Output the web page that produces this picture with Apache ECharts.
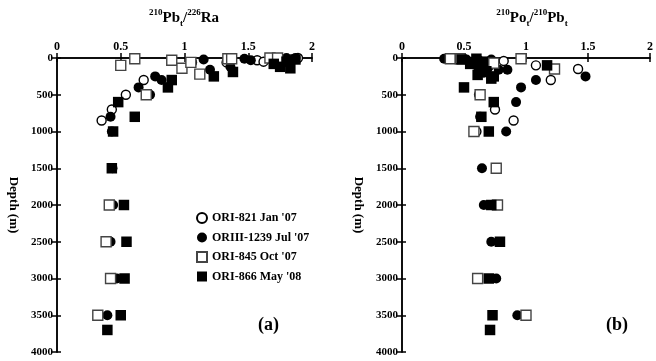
<!DOCTYPE html>
<html><head><meta charset="utf-8">
<script src="https://cdn.jsdelivr.net/npm/echarts@6/dist/echarts.min.js"></script>
<style>html,body{margin:0;padding:0;background:#fff}#c{width:656px;height:361px}</style>
</head><body><div id="c"></div>
<script>
// ---- tick labels ----
const ratioTicks = [0, 0.5, 1, 1.5, 2];
const depthTicks = [0, 500, 1000, 1500, 2000, 2500, 3000, 3500, 4000];
const seriesNames = ["ORI-821 Jan '07", "ORIII-1239 Jul '07", "ORI-845 Oct '07", "ORI-866 May '08"];

// ---- panel (a): 210Pb/226Ra  [ratio, depth m] ----
const pbRa_ORI821 = [[0.35,850],[0.43,700],[0.54,500],[0.68,300],[1.33,60],[1.57,30],[1.62,50],[1.89,0]];
const pbRa_ORIII1239 = [[1.06,60],[1.15,20],[1.20,160],[1.36,120],[1.47,10],[1.52,30],[1.80,0],[1.87,0],[0.77,250],[0.82,300],[0.64,400],[0.73,500],[0.42,800],[0.43,1000],[0.435,1500],[0.44,2000],[0.42,2500],[0.47,3000],[0.395,3500]];
const pbRa_ORI845 = [[0.50,100],[0.61,10],[0.90,30],[0.98,140],[1.05,60],[1.12,220],[1.34,10],[1.37,10],[1.67,0],[1.73,0],[0.70,500],[0.41,2000],[0.385,2500],[0.42,3000],[0.32,3500]];
const pbRa_ORI866 = [[0.90,300],[0.87,400],[1.23,250],[1.38,190],[1.70,80],[1.75,120],[1.80,50],[1.83,140],[1.87,20],[0.48,600],[0.61,800],[0.44,1000],[0.43,1500],[0.525,2000],[0.545,2500],[0.53,3000],[0.50,3500],[0.395,3700]];

// ---- panel (b): 210Po/210Pb ----
const poPb_ORI821 = [[0.82,40],[0.75,700],[0.90,850],[0.60,1000],[1.08,100],[1.20,300],[1.42,150]];
const poPb_ORIII1239 = [[0.34,10],[0.45,10],[0.52,20],[0.58,50],[0.62,30],[0.68,80],[0.72,20],[0.70,120],[0.66,200],[0.78,160],[0.85,160],[0.62,500],[0.96,400],[0.92,600],[0.63,800],[0.84,1000],[0.645,1500],[0.66,2000],[0.72,2500],[0.76,3000],[0.93,3500],[1.08,300],[1.48,250]];
const poPb_ORI845 = [[0.39,10],[0.47,10],[0.74,70],[0.96,10],[1.23,150],[0.63,500],[0.58,1000],[0.76,1500],[0.77,2000],[0.61,3000],[1.00,3500]];
const poPb_ORI866 = [[0.48,20],[0.55,80],[0.60,10],[0.62,120],[0.65,50],[0.68,180],[0.61,230],[0.74,250],[0.72,280],[0.50,400],[0.74,600],[0.64,800],[0.70,1000],[0.72,2000],[0.79,2500],[0.70,3000],[0.73,3500],[0.71,3700],[1.17,100]];

const FONT = 'Liberation Serif';
const chart = echarts.init(document.getElementById('c'), null, {renderer: 'canvas'});

const xMin = ratioTicks[0], xMax = ratioTicks[ratioTicks.length-1], xInt = ratioTicks[1]-ratioTicks[0];
const yMin = depthTicks[0], yMax = depthTicks[depthTicks.length-1], yInt = depthTicks[1]-depthTicks[0];
const lineSt = {color: '#000', width: 1.5};
const pick = (arr, v) => String(arr.find(t => Math.abs(t - v) < 1e-9) ?? v);

function xAxes(g) {
  const base = {gridIndex: g, type: 'value', min: xMin, max: xMax, interval: xInt, splitLine: {show: false}, offset: 0};
  return [
    Object.assign({}, base, {position: 'top', axisLine: {show: true, lineStyle: lineSt},
      axisTick: {show: true, inside: false, length: 4, lineStyle: lineSt},
      axisLabel: {show: true, margin: 5, color: '#000', fontFamily: FONT, fontWeight: 'bold', fontSize: 12,
        formatter: v => pick(ratioTicks, v)}}),
    Object.assign({}, base, {position: 'top', axisLine: {show: false},
      axisTick: {show: true, inside: true, length: 4, lineStyle: lineSt}, axisLabel: {show: false}}),
    Object.assign({}, base, {position: 'bottom', axisLine: {show: true, lineStyle: lineSt},
      axisTick: {show: true, inside: true, length: 5, lineStyle: lineSt}, axisLabel: {show: false}})
  ];
}
function yAxes(g) {
  const base = {gridIndex: g, type: 'value', inverse: true, min: yMin, max: yMax, interval: yInt, splitLine: {show: false}, offset: 0};
  return [
    Object.assign({}, base, {position: 'left', axisLine: {show: true, lineStyle: lineSt},
      axisTick: {show: true, inside: false, length: 4, lineStyle: lineSt},
      axisLabel: {show: true, margin: 4, color: '#000', fontFamily: FONT, fontWeight: 'bold', fontSize: 11,
        formatter: v => pick(depthTicks, v)},
      name: 'Depth (m)', nameLocation: 'middle', nameRotate: -90, nameGap: 37,
      nameTextStyle: {color: '#000', fontFamily: FONT, fontWeight: 'bold', fontSize: 13}}),
    Object.assign({}, base, {position: 'left', axisLine: {show: false},
      axisTick: {show: true, inside: true, length: 4, lineStyle: lineSt}, axisLabel: {show: false}}),
    Object.assign({}, base, {position: 'right', axisLine: {show: true, lineStyle: lineSt},
      axisTick: {show: true, inside: true, length: 5, lineStyle: lineSt}, axisLabel: {show: false}})
  ];
}

const styles = [
  {symbol: 'circle', symbolSize: 9, itemStyle: {color: '#fff', borderColor: '#000', borderWidth: 1.4, opacity: 1}},
  {symbol: 'circle', symbolSize: 10, itemStyle: {color: '#000', opacity: 1}},
  {symbol: 'rect', symbolSize: 10, itemStyle: {color: '#fff', borderColor: '#444', borderWidth: 1.4, opacity: 1}},
  {symbol: 'rect', symbolSize: 10.5, itemStyle: {color: '#000', opacity: 1}}
];
const panelData = [
  [pbRa_ORI821, pbRa_ORIII1239, pbRa_ORI845, pbRa_ORI866],
  [poPb_ORI821, poPb_ORIII1239, poPb_ORI845, poPb_ORI866]
];
const drawOrder = [2, 0, 1, 3];
const series = [];
panelData.forEach((sets, g) => {
  drawOrder.forEach(i => {
    series.push(Object.assign({
      type: 'scatter', name: seriesNames[i], data: sets[i],
      xAxisIndex: g * 3, yAxisIndex: g * 3, z: 2 + i,
      emphasis: {disabled: true}
    }, JSON.parse(JSON.stringify(styles[i]))));
  });
});

const rich = {
  m: {fontFamily: FONT, fontWeight: 'bold', fontSize: 15, lineHeight: 20, color: '#000'},
  sup: {fontFamily: FONT, fontWeight: 'bold', fontSize: 9, lineHeight: 10, verticalAlign: 'top', color: '#000'},
  sub: {fontFamily: FONT, fontWeight: 'bold', fontSize: 9, lineHeight: 10, verticalAlign: 'bottom', color: '#000'}
};

chart.setOption({
  animation: false,
  backgroundColor: '#fff',
  title: [
    {text: '{sup|210}{m|Pb}{sub|t}{m|/}{sup|226}{m|Ra}', left: 184, top: 8, textAlign: 'center', padding: 0, textStyle: {rich: rich}},
    {text: '{sup|210}{m|Po}{sub|t}{m|/}{sup|210}{m|Pb}{sub|t}', left: 532, top: 8, textAlign: 'center', padding: 0, textStyle: {rich: rich}}
  ],
  grid: [
    {left: 57, top: 58, width: 255, height: 294, containLabel: false},
    {left: 402, top: 58, width: 255, height: 294, containLabel: false}
  ],
  xAxis: xAxes(0).concat(xAxes(1)),
  yAxis: yAxes(0).concat(yAxes(1)),
  legend: {
    data: seriesNames, orient: 'vertical', left: 196, top: 212, padding: 0,
    itemWidth: 10, itemHeight: 10, itemGap: 7.5, selectedMode: false,
    textStyle: {color: '#000', fontFamily: FONT, fontWeight: 'bold', fontSize: 12}
  },
  graphic: [
    {type: 'text', left: 258, top: 316, style: {text: '(a)', fill: '#000', font: 'bold 18px "Liberation Serif"'}},
    {type: 'text', left: 606, top: 316, style: {text: '(b)', fill: '#000', font: 'bold 18px "Liberation Serif"'}}
  ],
  series: series
});
</script>
</body></html>
